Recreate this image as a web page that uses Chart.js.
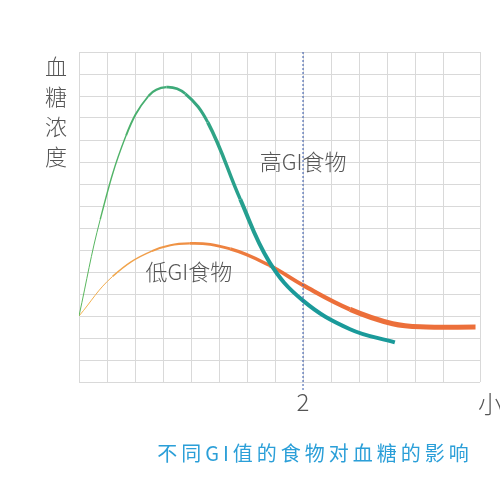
<!DOCTYPE html><html><head><meta charset="utf-8">
<script src="https://cdn.jsdelivr.net/npm/chart.js@4"></script>
<style>html,body{margin:0;background:#fff}#w{width:500px;height:486px}</style></head><body><div id="w"><canvas id="c"></canvas></div>
<script>
const hours = [0,0.19,0.42,0.62,0.78,0.95,1.15,1.44,1.7,2.0,2.42,2.82];
const highGI = [3.0,7.4,11.2,13.0,13.4,13.1,11.8,8.3,5.45,3.7,2.4,1.8];
const lowHours = [0,0.3,0.65,0.99,1.35,1.7,2.0,2.42,2.8,3.1,3.54];
const lowGI = [3.0,4.8,5.95,6.3,6.05,5.3,4.4,3.3,2.65,2.5,2.5];
const xTicks = [2];
const yLabel = ['血','糖','浓','度'];
const xUnit = '小时';
const highLabel = '高GI食物', lowLabel = '低GI食物';
const caption = '不同GI值的食物对血糖的影响';
const XMAX = 3.58, YMAX = 15;
function grad(c, a, b){const ch=c.chart, ar=ch.chartArea; if(!ar) return a; const g=ch.ctx.createLinearGradient(ar.left,0,ar.right,0); g.addColorStop(0,a); g.addColorStop(0.5,b); g.addColorStop(1,b); return g;}
const txt = {id:'txt', afterDraw(ch){const {ctx,scales:{x,y}}=ch;ctx.save();
 ctx.setLineDash([2,2]);ctx.strokeStyle='#3355aa';ctx.lineWidth=1;const px=x.getPixelForValue(2);ctx.beginPath();ctx.moveTo(px,y.top);ctx.lineTo(px,y.bottom+8);ctx.stroke();ctx.setLineDash([]);
 ctx.fillStyle='#555';ctx.font='300 22px "Noto Sans CJK SC"';ctx.textAlign='center';ctx.textBaseline='middle';
 yLabel.forEach((s,i)=>ctx.fillText(s,56,67+i*30));
 ctx.fillText(highLabel,x.getPixelForValue(2.0),y.getPixelForValue(10));
 ctx.fillText(lowLabel,x.getPixelForValue(0.98),y.getPixelForValue(5.0));
 ctx.font='300 24px "Noto Sans CJK SC"';
 xTicks.forEach(t=>ctx.fillText(String(t),x.getPixelForValue(t),402));
 ctx.textAlign='left';ctx.fillText(xUnit,478,404);
 ctx.fillStyle='#2b9fd8';ctx.font='20px "Noto Sans CJK SC"';ctx.textAlign='center';
 if('letterSpacing' in ctx) ctx.letterSpacing='4px';
 ctx.fillText(caption,315,453);
 ctx.restore();}};
new Chart(document.getElementById('c'),{type:'scatter',
 data:{datasets:[
  {data:hours.map((h,i)=>({x:h,y:highGI[i]})),showLine:true,pointRadius:0,tension:0.4,
   borderColor:c=>grad(c,'#5cb85c','#1a9a9a'),segment:{borderWidth:c=>1+3*Math.min(c.p0.parsed.x,1.4)/1.4}},
  {data:lowHours.map((h,i)=>({x:h,y:lowGI[i]})),showLine:true,pointRadius:0,tension:0.4,
   borderColor:c=>grad(c,'#f2b450','#ec6f3a'),segment:{borderWidth:c=>1+4*Math.min(c.p0.parsed.x,2.4)/2.4}}
 ]},
 options:{responsive:true,maintainAspectRatio:false,animation:false,layout:{padding:{left:79,right:20,top:52,bottom:104}},
  plugins:{legend:{display:false},tooltip:{enabled:false}},
  scales:{x:{type:'linear',min:0,max:XMAX,ticks:{display:false,stepSize:0.25},grid:{color:'#d9d9d9',drawTicks:false},border:{display:false}},
   y:{min:0,max:YMAX,ticks:{display:false,stepSize:1},grid:{color:'#d9d9d9',drawTicks:false},border:{display:false}}}},
 plugins:[txt]});
</script></body></html>
